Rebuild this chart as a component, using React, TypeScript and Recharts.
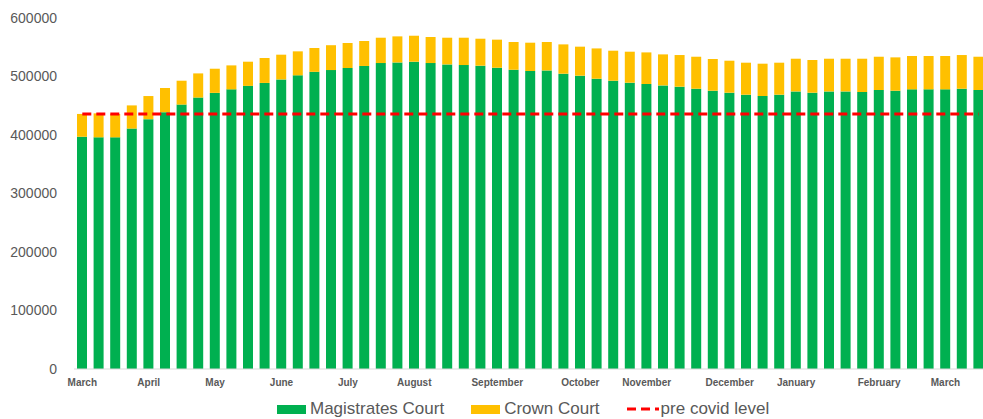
import React from 'react';
import { ComposedChart, Bar, Line, XAxis, YAxis, Legend } from 'recharts';

// Weekly outstanding caseload, March to March (55 weeks)
const magistratesCourt = [
  397000, 396000, 396000, 411000, 427000, 439000, 452000, 464000, 472000, 478000,
  484000, 489000, 495000, 502000, 508000, 511000, 514500, 518000, 523000, 524000,
  525300, 523000, 520700, 519600, 518500, 515000, 511600, 509400, 510400, 504800,
  501400, 496200, 492800, 489400, 487200, 484800, 482600, 479100, 475700, 472300,
  468900, 466700, 468900, 474500, 472300, 474500, 474500, 473500, 476900, 475700,
  478000, 478000, 478000, 479100, 476900,
];

const crownCourt = [
  39000, 41000, 40000, 39600, 39600, 41300, 40800, 41300, 41300, 41000,
  41300, 42600, 42300, 41000, 40700, 42500, 42800, 42700, 43300, 44600,
  44400, 44500, 45600, 46700, 46100, 48000, 47400, 48400, 48600, 50100,
  49600, 51800, 51300, 53000, 54000, 53000, 54100, 54700, 54200, 54700,
  54700, 55200, 54700, 55900, 55900, 55900, 55900, 56900, 56900, 57000,
  57000, 57000, 57000, 57600, 56900,
];

const PRE_COVID_LEVEL = 436000;

// Week numbers carrying a month label on the category axis
const monthTickWeeks = [1, 5, 9, 13, 17, 21, 26, 31, 35, 40, 44, 49, 53];
const monthTickLabels = [
  'March', 'April', 'May', 'June', 'July', 'August', 'September',
  'October', 'November', 'December', 'January', 'February', 'March',
];

const yTicks = [0, 100000, 200000, 300000, 400000, 500000, 600000];

const GREEN = '#00B050';
const YELLOW = '#FFC000';
const RED = '#FF0000';
const GREY = '#595959';

const data = magistratesCourt.map((m, i) => ({
  week: i + 1,
  magistrates: m,
  crown: crownCourt[i],
  preCovid: PRE_COVID_LEVEL,
}));

const monthLabel = (week: number) => {
  const idx = monthTickWeeks.indexOf(week);
  return idx >= 0 ? monthTickLabels[idx] : '';
};

const LegendContent = () => (
  <div
    style={{
      display: 'flex',
      justifyContent: 'flex-start',
      alignItems: 'center',
      paddingLeft: 277,
      height: 20,
      fontFamily: '"Liberation Sans", Arial, sans-serif',
      fontSize: 17,
      color: GREY,
      whiteSpace: 'nowrap',
    }}
  >
    <span style={{ display: 'inline-block', width: 29, height: 9, background: GREEN, marginRight: 4 }} />
    <span style={{ marginRight: 27 }}>Magistrates Court</span>
    <span style={{ display: 'inline-block', width: 29, height: 9, background: YELLOW, marginRight: 4 }} />
    <span style={{ marginRight: 27 }}>Crown Court</span>
    <svg width={32} height={10} style={{ marginRight: 2 }}>
      <line x1={0} y1={5} x2={32} y2={5} stroke={RED} strokeWidth={3} strokeDasharray="9 5" />
    </svg>
    <span>pre covid level</span>
  </div>
);

export default function App() {
  return (
    <div style={{ position: 'absolute', left: 0, top: 0, width: 983, height: 419, overflow: 'hidden', background: '#fff' }}>
      <ComposedChart
        width={990}
        height={419}
        data={data}
        margin={{ top: 18, right: 3, bottom: 0, left: 0 }}
      >
        <XAxis
          dataKey="week"
          type="category"
          ticks={monthTickWeeks}
          interval={0}
          tickFormatter={monthLabel}
          axisLine={{ stroke: '#D9D9D9', strokeWidth: 1 }}
          tickLine={false}
          tickMargin={4}
          height={30}
          tick={{ fill: GREY, fontSize: 10, fontWeight: 'bold', fontFamily: '"Liberation Sans", Arial, sans-serif' }}
        />
        <YAxis
          width={74}
          domain={[0, 600000]}
          ticks={yTicks}
          axisLine={false}
          tickLine={false}
          tickMargin={11}
          tick={{ fill: GREY, fontSize: 14, fontFamily: '"Liberation Sans", Arial, sans-serif' }}
        />
        <Legend verticalAlign="bottom" height={20} content={<LegendContent />} />
        <Bar dataKey="magistrates" name="Magistrates Court" stackId="cases" fill={GREEN} barSize={10} isAnimationActive={false} />
        <Bar dataKey="crown" name="Crown Court" stackId="cases" fill={YELLOW} barSize={10} isAnimationActive={false} />
        <Line
          dataKey="preCovid"
          name="pre covid level"
          stroke={RED}
          strokeWidth={3}
          strokeDasharray="9 5"
          dot={false}
          activeDot={false}
          isAnimationActive={false}
        />
      </ComposedChart>
    </div>
  );
}
